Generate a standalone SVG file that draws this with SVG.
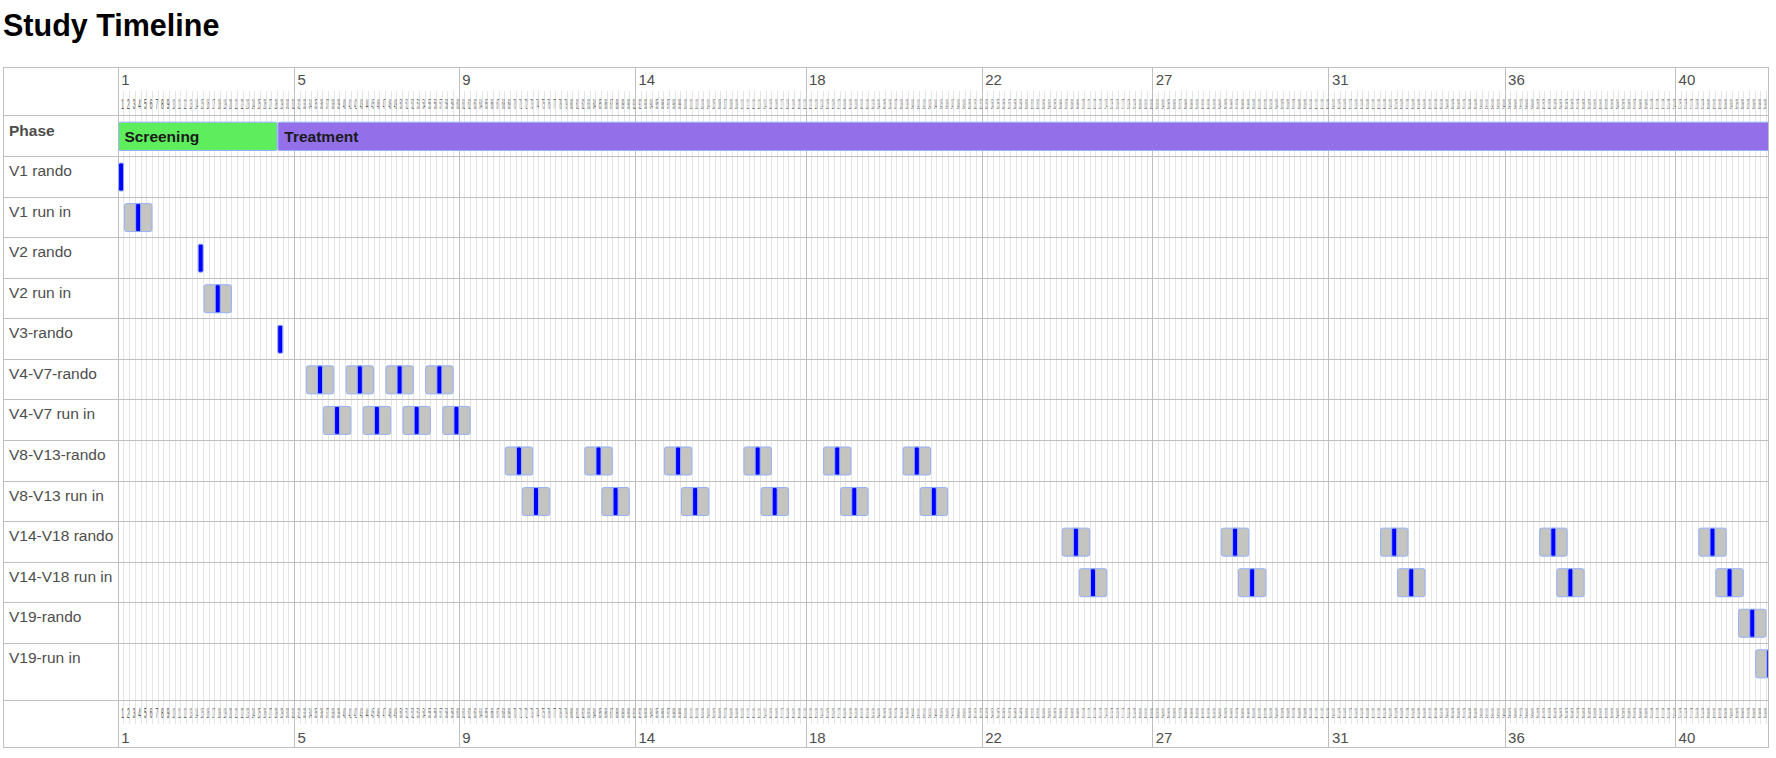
<svg xmlns="http://www.w3.org/2000/svg" width="1776" height="758" viewBox="0 0 1776 758">
<style>
text{font-family:"Liberation Sans",Arial,sans-serif}
.title{font-size:30.5px;font-weight:bold;fill:#000}
.lbl{font-size:15.5px;fill:#4d4d4d}
.hd{font-weight:bold}
.maj{font-size:15px;fill:#4d4d4d}
.ml text{font-size:15px;fill:#4d4d4d;transform-box:fill-box;transform-origin:0 0;transform:scaleX(.156)}
.ml .d1 text{transform:scaleX(.312)}
.ml .d3 text{transform:scaleX(.104)}
.ml text.d2{transform:scaleX(.156)}
.ml text.d3{transform:scaleX(.104)}
.mn{stroke:#e5e5e5;stroke-width:1;fill:none}
.mj{stroke:#bfbfbf;stroke-width:1;fill:none}
.gray{fill:#c4c4c0;stroke:#97b0f8;stroke-width:1}
.pt{fill:#0000ff;stroke:#97b0f8;stroke-width:1}
.ph{stroke:#97b0f8;stroke-width:1}
.pht{font-size:15.5px;font-weight:bold;fill:#1a1a1a}
</style>
<defs>
<path id="g10" d="M0 91V724M5.6835 91V724M11.367 91V724M17.0505 91V724M22.734 91V724M28.4175 91V724M34.101 91V724M39.7845 91V724M45.468 91V724M51.1515 91V724"/>
<clipPath id="cc"><rect x="118.3" y="67" width="1649.7" height="680.3"/></clipPath>
<g id="ri"><rect class="gray" x="-10.867" y="0" width="27.42" height="28" rx="2"/><rect class="pt" x="0.3" y="0" width="5" height="28" rx="1.5"/></g>
<g id="bp"><rect class="pt" x="0.3" y="0" width="5" height="28" rx="1.5"/></g>
</defs>
<rect x="0" y="0" width="1776" height="758" fill="#fff"/>
<text class="title" x="3" y="36">Study Timeline</text>

<g id="grid">
<g class="mn" shape-rendering="crispEdges">
<use href="#g10" x="118.3"/><use href="#g10" x="175.135"/><use href="#g10" x="231.97"/><use href="#g10" x="288.805"/><use href="#g10" x="345.64"/><use href="#g10" x="402.475"/><use href="#g10" x="459.31"/><use href="#g10" x="516.145"/><use href="#g10" x="572.98"/><use href="#g10" x="629.815"/><use href="#g10" x="686.65"/><use href="#g10" x="743.485"/><use href="#g10" x="800.32"/><use href="#g10" x="857.155"/><use href="#g10" x="913.99"/><use href="#g10" x="970.825"/><use href="#g10" x="1027.66"/><use href="#g10" x="1084.495"/><use href="#g10" x="1141.33"/><use href="#g10" x="1198.165"/><use href="#g10" x="1255"/><use href="#g10" x="1311.835"/><use href="#g10" x="1368.67"/><use href="#g10" x="1425.505"/><use href="#g10" x="1482.34"/><use href="#g10" x="1539.175"/><use href="#g10" x="1596.01"/><use href="#g10" x="1652.845"/><use href="#g10" x="1709.68"/>
<path d="M1766.515 91V724"/>
</g>
<path class="mj" shape-rendering="crispEdges" d="M118.3 67V747.3M294.49 67V747.3M459.31 67V747.3M635.5 67V747.3M806 67V747.3M982.19 67V747.3M1152.7 67V747.3M1328.89 67V747.3M1505.07 67V747.3M1675.58 67V747.3"/>
<path class="mj" shape-rendering="crispEdges" d="M3.5 115.7H1768M3.5 156.5H1768M3.5 197.07H1768M3.5 237.64H1768M3.5 278.21H1768M3.5 318.78H1768M3.5 359.35H1768M3.5 399.92H1768M3.5 440.49H1768M3.5 481.06H1768M3.5 521.63H1768M3.5 562.2H1768M3.5 602.77H1768M3.5 643.34H1768M3.5 700H1768"/>
<rect class="mj" shape-rendering="crispEdges" x="3.5" y="67" width="1764.5" height="680.3"/>
</g>

<g id="axis-major" class="maj">
<text x="121.3" y="85">1</text><text x="297.5" y="85">5</text><text x="462.3" y="85">9</text><text x="638.5" y="85">14</text><text x="809" y="85">18</text><text x="985.2" y="85">22</text><text x="1155.7" y="85">27</text><text x="1331.9" y="85">31</text><text x="1508.1" y="85">36</text><text x="1678.6" y="85">40</text>
<text x="121.3" y="742.5">1</text><text x="297.5" y="742.5">5</text><text x="462.3" y="742.5">9</text><text x="638.5" y="742.5">14</text><text x="809" y="742.5">18</text><text x="985.2" y="742.5">22</text><text x="1155.7" y="742.5">27</text><text x="1331.9" y="742.5">31</text><text x="1508.1" y="742.5">36</text><text x="1678.6" y="742.5">40</text>
</g>

<g id="axis-minor-top" class="ml">
<g class="d1" transform="translate(118.3 108.5)"><text x="3">1</text><text x="8.68">2</text><text x="14.37">3</text><text x="20.05">4</text><text x="25.73">5</text><text x="31.42">6</text><text x="37.1">7</text><text x="42.78">8</text><text x="48.47">9</text><text class="d2" x="54.15">10</text></g>
<g transform="translate(175.135 108.5)"><text x="3">11</text><text x="8.68">12</text><text x="14.37">13</text><text x="20.05">14</text><text x="25.73">15</text><text x="31.42">16</text><text x="37.1">17</text><text x="42.78">18</text><text x="48.47">19</text><text x="54.15">20</text></g>
<g transform="translate(231.97 108.5)"><text x="3">21</text><text x="8.68">22</text><text x="14.37">23</text><text x="20.05">24</text><text x="25.73">25</text><text x="31.42">26</text><text x="37.1">27</text><text x="42.78">28</text><text x="48.47">29</text><text x="54.15">30</text></g>
<g transform="translate(288.805 108.5)"><text x="3">31</text><text x="8.68">32</text><text x="14.37">33</text><text x="20.05">34</text><text x="25.73">35</text><text x="31.42">36</text><text x="37.1">37</text><text x="42.78">38</text><text x="48.47">39</text><text x="54.15">40</text></g>
<g transform="translate(345.64 108.5)"><text x="3">41</text><text x="8.68">42</text><text x="14.37">43</text><text x="20.05">44</text><text x="25.73">45</text><text x="31.42">46</text><text x="37.1">47</text><text x="42.78">48</text><text x="48.47">49</text><text x="54.15">50</text></g>
<g transform="translate(402.475 108.5)"><text x="3">51</text><text x="8.68">52</text><text x="14.37">53</text><text x="20.05">54</text><text x="25.73">55</text><text x="31.42">56</text><text x="37.1">57</text><text x="42.78">58</text><text x="48.47">59</text><text x="54.15">60</text></g>
<g transform="translate(459.31 108.5)"><text x="3">61</text><text x="8.68">62</text><text x="14.37">63</text><text x="20.05">64</text><text x="25.73">65</text><text x="31.42">66</text><text x="37.1">67</text><text x="42.78">68</text><text x="48.47">69</text><text x="54.15">70</text></g>
<g transform="translate(516.145 108.5)"><text x="3">71</text><text x="8.68">72</text><text x="14.37">73</text><text x="20.05">74</text><text x="25.73">75</text><text x="31.42">76</text><text x="37.1">77</text><text x="42.78">78</text><text x="48.47">79</text><text x="54.15">80</text></g>
<g transform="translate(572.98 108.5)"><text x="3">81</text><text x="8.68">82</text><text x="14.37">83</text><text x="20.05">84</text><text x="25.73">85</text><text x="31.42">86</text><text x="37.1">87</text><text x="42.78">88</text><text x="48.47">89</text><text x="54.15">90</text></g>
<g transform="translate(629.815 108.5)"><text x="3">91</text><text x="8.68">92</text><text x="14.37">93</text><text x="20.05">94</text><text x="25.73">95</text><text x="31.42">96</text><text x="37.1">97</text><text x="42.78">98</text><text x="48.47">99</text><text class="d3" x="54.15">100</text></g>
<g class="d3" transform="translate(686.65 108.5)"><text x="3">101</text><text x="8.68">102</text><text x="14.37">103</text><text x="20.05">104</text><text x="25.73">105</text><text x="31.42">106</text><text x="37.1">107</text><text x="42.78">108</text><text x="48.47">109</text><text x="54.15">110</text></g>
<g class="d3" transform="translate(743.485 108.5)"><text x="3">111</text><text x="8.68">112</text><text x="14.37">113</text><text x="20.05">114</text><text x="25.73">115</text><text x="31.42">116</text><text x="37.1">117</text><text x="42.78">118</text><text x="48.47">119</text><text x="54.15">120</text></g>
<g class="d3" transform="translate(800.32 108.5)"><text x="3">121</text><text x="8.68">122</text><text x="14.37">123</text><text x="20.05">124</text><text x="25.73">125</text><text x="31.42">126</text><text x="37.1">127</text><text x="42.78">128</text><text x="48.47">129</text><text x="54.15">130</text></g>
<g class="d3" transform="translate(857.155 108.5)"><text x="3">131</text><text x="8.68">132</text><text x="14.37">133</text><text x="20.05">134</text><text x="25.73">135</text><text x="31.42">136</text><text x="37.1">137</text><text x="42.78">138</text><text x="48.47">139</text><text x="54.15">140</text></g>
<g class="d3" transform="translate(913.99 108.5)"><text x="3">141</text><text x="8.68">142</text><text x="14.37">143</text><text x="20.05">144</text><text x="25.73">145</text><text x="31.42">146</text><text x="37.1">147</text><text x="42.78">148</text><text x="48.47">149</text><text x="54.15">150</text></g>
<g class="d3" transform="translate(970.825 108.5)"><text x="3">151</text><text x="8.68">152</text><text x="14.37">153</text><text x="20.05">154</text><text x="25.73">155</text><text x="31.42">156</text><text x="37.1">157</text><text x="42.78">158</text><text x="48.47">159</text><text x="54.15">160</text></g>
<g class="d3" transform="translate(1027.66 108.5)"><text x="3">161</text><text x="8.68">162</text><text x="14.37">163</text><text x="20.05">164</text><text x="25.73">165</text><text x="31.42">166</text><text x="37.1">167</text><text x="42.78">168</text><text x="48.47">169</text><text x="54.15">170</text></g>
<g class="d3" transform="translate(1084.495 108.5)"><text x="3">171</text><text x="8.68">172</text><text x="14.37">173</text><text x="20.05">174</text><text x="25.73">175</text><text x="31.42">176</text><text x="37.1">177</text><text x="42.78">178</text><text x="48.47">179</text><text x="54.15">180</text></g>
<g class="d3" transform="translate(1141.33 108.5)"><text x="3">181</text><text x="8.68">182</text><text x="14.37">183</text><text x="20.05">184</text><text x="25.73">185</text><text x="31.42">186</text><text x="37.1">187</text><text x="42.78">188</text><text x="48.47">189</text><text x="54.15">190</text></g>
<g class="d3" transform="translate(1198.165 108.5)"><text x="3">191</text><text x="8.68">192</text><text x="14.37">193</text><text x="20.05">194</text><text x="25.73">195</text><text x="31.42">196</text><text x="37.1">197</text><text x="42.78">198</text><text x="48.47">199</text><text x="54.15">200</text></g>
<g class="d3" transform="translate(1255 108.5)"><text x="3">201</text><text x="8.68">202</text><text x="14.37">203</text><text x="20.05">204</text><text x="25.73">205</text><text x="31.42">206</text><text x="37.1">207</text><text x="42.78">208</text><text x="48.47">209</text><text x="54.15">210</text></g>
<g class="d3" transform="translate(1311.835 108.5)"><text x="3">211</text><text x="8.68">212</text><text x="14.37">213</text><text x="20.05">214</text><text x="25.73">215</text><text x="31.42">216</text><text x="37.1">217</text><text x="42.78">218</text><text x="48.47">219</text><text x="54.15">220</text></g>
<g class="d3" transform="translate(1368.67 108.5)"><text x="3">221</text><text x="8.68">222</text><text x="14.37">223</text><text x="20.05">224</text><text x="25.73">225</text><text x="31.42">226</text><text x="37.1">227</text><text x="42.78">228</text><text x="48.47">229</text><text x="54.15">230</text></g>
<g class="d3" transform="translate(1425.505 108.5)"><text x="3">231</text><text x="8.68">232</text><text x="14.37">233</text><text x="20.05">234</text><text x="25.73">235</text><text x="31.42">236</text><text x="37.1">237</text><text x="42.78">238</text><text x="48.47">239</text><text x="54.15">240</text></g>
<g class="d3" transform="translate(1482.34 108.5)"><text x="3">241</text><text x="8.68">242</text><text x="14.37">243</text><text x="20.05">244</text><text x="25.73">245</text><text x="31.42">246</text><text x="37.1">247</text><text x="42.78">248</text><text x="48.47">249</text><text x="54.15">250</text></g>
<g class="d3" transform="translate(1539.175 108.5)"><text x="3">251</text><text x="8.68">252</text><text x="14.37">253</text><text x="20.05">254</text><text x="25.73">255</text><text x="31.42">256</text><text x="37.1">257</text><text x="42.78">258</text><text x="48.47">259</text><text x="54.15">260</text></g>
<g class="d3" transform="translate(1596.01 108.5)"><text x="3">261</text><text x="8.68">262</text><text x="14.37">263</text><text x="20.05">264</text><text x="25.73">265</text><text x="31.42">266</text><text x="37.1">267</text><text x="42.78">268</text><text x="48.47">269</text><text x="54.15">270</text></g>
<g class="d3" transform="translate(1652.845 108.5)"><text x="3">271</text><text x="8.68">272</text><text x="14.37">273</text><text x="20.05">274</text><text x="25.73">275</text><text x="31.42">276</text><text x="37.1">277</text><text x="42.78">278</text><text x="48.47">279</text><text x="54.15">280</text></g>
<g class="d3" transform="translate(1709.68 108.5)"><text x="3">281</text><text x="8.68">282</text><text x="14.37">283</text><text x="20.05">284</text><text x="25.73">285</text><text x="31.42">286</text><text x="37.1">287</text><text x="42.78">288</text><text x="48.47">289</text><text x="54.15">290</text></g>
</g>

<g id="axis-minor-bottom" class="ml">
<g class="d1" transform="translate(118.3 717.5)"><text x="3">1</text><text x="8.68">2</text><text x="14.37">3</text><text x="20.05">4</text><text x="25.73">5</text><text x="31.42">6</text><text x="37.1">7</text><text x="42.78">8</text><text x="48.47">9</text><text class="d2" x="54.15">10</text></g>
<g transform="translate(175.135 717.5)"><text x="3">11</text><text x="8.68">12</text><text x="14.37">13</text><text x="20.05">14</text><text x="25.73">15</text><text x="31.42">16</text><text x="37.1">17</text><text x="42.78">18</text><text x="48.47">19</text><text x="54.15">20</text></g>
<g transform="translate(231.97 717.5)"><text x="3">21</text><text x="8.68">22</text><text x="14.37">23</text><text x="20.05">24</text><text x="25.73">25</text><text x="31.42">26</text><text x="37.1">27</text><text x="42.78">28</text><text x="48.47">29</text><text x="54.15">30</text></g>
<g transform="translate(288.805 717.5)"><text x="3">31</text><text x="8.68">32</text><text x="14.37">33</text><text x="20.05">34</text><text x="25.73">35</text><text x="31.42">36</text><text x="37.1">37</text><text x="42.78">38</text><text x="48.47">39</text><text x="54.15">40</text></g>
<g transform="translate(345.64 717.5)"><text x="3">41</text><text x="8.68">42</text><text x="14.37">43</text><text x="20.05">44</text><text x="25.73">45</text><text x="31.42">46</text><text x="37.1">47</text><text x="42.78">48</text><text x="48.47">49</text><text x="54.15">50</text></g>
<g transform="translate(402.475 717.5)"><text x="3">51</text><text x="8.68">52</text><text x="14.37">53</text><text x="20.05">54</text><text x="25.73">55</text><text x="31.42">56</text><text x="37.1">57</text><text x="42.78">58</text><text x="48.47">59</text><text x="54.15">60</text></g>
<g transform="translate(459.31 717.5)"><text x="3">61</text><text x="8.68">62</text><text x="14.37">63</text><text x="20.05">64</text><text x="25.73">65</text><text x="31.42">66</text><text x="37.1">67</text><text x="42.78">68</text><text x="48.47">69</text><text x="54.15">70</text></g>
<g transform="translate(516.145 717.5)"><text x="3">71</text><text x="8.68">72</text><text x="14.37">73</text><text x="20.05">74</text><text x="25.73">75</text><text x="31.42">76</text><text x="37.1">77</text><text x="42.78">78</text><text x="48.47">79</text><text x="54.15">80</text></g>
<g transform="translate(572.98 717.5)"><text x="3">81</text><text x="8.68">82</text><text x="14.37">83</text><text x="20.05">84</text><text x="25.73">85</text><text x="31.42">86</text><text x="37.1">87</text><text x="42.78">88</text><text x="48.47">89</text><text x="54.15">90</text></g>
<g transform="translate(629.815 717.5)"><text x="3">91</text><text x="8.68">92</text><text x="14.37">93</text><text x="20.05">94</text><text x="25.73">95</text><text x="31.42">96</text><text x="37.1">97</text><text x="42.78">98</text><text x="48.47">99</text><text class="d3" x="54.15">100</text></g>
<g class="d3" transform="translate(686.65 717.5)"><text x="3">101</text><text x="8.68">102</text><text x="14.37">103</text><text x="20.05">104</text><text x="25.73">105</text><text x="31.42">106</text><text x="37.1">107</text><text x="42.78">108</text><text x="48.47">109</text><text x="54.15">110</text></g>
<g class="d3" transform="translate(743.485 717.5)"><text x="3">111</text><text x="8.68">112</text><text x="14.37">113</text><text x="20.05">114</text><text x="25.73">115</text><text x="31.42">116</text><text x="37.1">117</text><text x="42.78">118</text><text x="48.47">119</text><text x="54.15">120</text></g>
<g class="d3" transform="translate(800.32 717.5)"><text x="3">121</text><text x="8.68">122</text><text x="14.37">123</text><text x="20.05">124</text><text x="25.73">125</text><text x="31.42">126</text><text x="37.1">127</text><text x="42.78">128</text><text x="48.47">129</text><text x="54.15">130</text></g>
<g class="d3" transform="translate(857.155 717.5)"><text x="3">131</text><text x="8.68">132</text><text x="14.37">133</text><text x="20.05">134</text><text x="25.73">135</text><text x="31.42">136</text><text x="37.1">137</text><text x="42.78">138</text><text x="48.47">139</text><text x="54.15">140</text></g>
<g class="d3" transform="translate(913.99 717.5)"><text x="3">141</text><text x="8.68">142</text><text x="14.37">143</text><text x="20.05">144</text><text x="25.73">145</text><text x="31.42">146</text><text x="37.1">147</text><text x="42.78">148</text><text x="48.47">149</text><text x="54.15">150</text></g>
<g class="d3" transform="translate(970.825 717.5)"><text x="3">151</text><text x="8.68">152</text><text x="14.37">153</text><text x="20.05">154</text><text x="25.73">155</text><text x="31.42">156</text><text x="37.1">157</text><text x="42.78">158</text><text x="48.47">159</text><text x="54.15">160</text></g>
<g class="d3" transform="translate(1027.66 717.5)"><text x="3">161</text><text x="8.68">162</text><text x="14.37">163</text><text x="20.05">164</text><text x="25.73">165</text><text x="31.42">166</text><text x="37.1">167</text><text x="42.78">168</text><text x="48.47">169</text><text x="54.15">170</text></g>
<g class="d3" transform="translate(1084.495 717.5)"><text x="3">171</text><text x="8.68">172</text><text x="14.37">173</text><text x="20.05">174</text><text x="25.73">175</text><text x="31.42">176</text><text x="37.1">177</text><text x="42.78">178</text><text x="48.47">179</text><text x="54.15">180</text></g>
<g class="d3" transform="translate(1141.33 717.5)"><text x="3">181</text><text x="8.68">182</text><text x="14.37">183</text><text x="20.05">184</text><text x="25.73">185</text><text x="31.42">186</text><text x="37.1">187</text><text x="42.78">188</text><text x="48.47">189</text><text x="54.15">190</text></g>
<g class="d3" transform="translate(1198.165 717.5)"><text x="3">191</text><text x="8.68">192</text><text x="14.37">193</text><text x="20.05">194</text><text x="25.73">195</text><text x="31.42">196</text><text x="37.1">197</text><text x="42.78">198</text><text x="48.47">199</text><text x="54.15">200</text></g>
<g class="d3" transform="translate(1255 717.5)"><text x="3">201</text><text x="8.68">202</text><text x="14.37">203</text><text x="20.05">204</text><text x="25.73">205</text><text x="31.42">206</text><text x="37.1">207</text><text x="42.78">208</text><text x="48.47">209</text><text x="54.15">210</text></g>
<g class="d3" transform="translate(1311.835 717.5)"><text x="3">211</text><text x="8.68">212</text><text x="14.37">213</text><text x="20.05">214</text><text x="25.73">215</text><text x="31.42">216</text><text x="37.1">217</text><text x="42.78">218</text><text x="48.47">219</text><text x="54.15">220</text></g>
<g class="d3" transform="translate(1368.67 717.5)"><text x="3">221</text><text x="8.68">222</text><text x="14.37">223</text><text x="20.05">224</text><text x="25.73">225</text><text x="31.42">226</text><text x="37.1">227</text><text x="42.78">228</text><text x="48.47">229</text><text x="54.15">230</text></g>
<g class="d3" transform="translate(1425.505 717.5)"><text x="3">231</text><text x="8.68">232</text><text x="14.37">233</text><text x="20.05">234</text><text x="25.73">235</text><text x="31.42">236</text><text x="37.1">237</text><text x="42.78">238</text><text x="48.47">239</text><text x="54.15">240</text></g>
<g class="d3" transform="translate(1482.34 717.5)"><text x="3">241</text><text x="8.68">242</text><text x="14.37">243</text><text x="20.05">244</text><text x="25.73">245</text><text x="31.42">246</text><text x="37.1">247</text><text x="42.78">248</text><text x="48.47">249</text><text x="54.15">250</text></g>
<g class="d3" transform="translate(1539.175 717.5)"><text x="3">251</text><text x="8.68">252</text><text x="14.37">253</text><text x="20.05">254</text><text x="25.73">255</text><text x="31.42">256</text><text x="37.1">257</text><text x="42.78">258</text><text x="48.47">259</text><text x="54.15">260</text></g>
<g class="d3" transform="translate(1596.01 717.5)"><text x="3">261</text><text x="8.68">262</text><text x="14.37">263</text><text x="20.05">264</text><text x="25.73">265</text><text x="31.42">266</text><text x="37.1">267</text><text x="42.78">268</text><text x="48.47">269</text><text x="54.15">270</text></g>
<g class="d3" transform="translate(1652.845 717.5)"><text x="3">271</text><text x="8.68">272</text><text x="14.37">273</text><text x="20.05">274</text><text x="25.73">275</text><text x="31.42">276</text><text x="37.1">277</text><text x="42.78">278</text><text x="48.47">279</text><text x="54.15">280</text></g>
<g class="d3" transform="translate(1709.68 717.5)"><text x="3">281</text><text x="8.68">282</text><text x="14.37">283</text><text x="20.05">284</text><text x="25.73">285</text><text x="31.42">286</text><text x="37.1">287</text><text x="42.78">288</text><text x="48.47">289</text><text x="54.15">290</text></g>
</g>

<g id="row-phase">
<text class="lbl hd" x="9" y="135.5">Phase</text>
<g clip-path="url(#cc)">
<rect class="ph" x="118.8" y="122.2" width="158.2" height="28.3" rx="1.5" fill="#5ded5d"/>
<rect class="ph" x="277.94" y="122.2" width="1600" height="28.3" rx="1.5" fill="#9370ea"/>
<text class="pht" x="124.4" y="141.6">Screening</text>
<text class="pht" x="284.3" y="141.6">Treatment</text>
</g>
</g>

<g id="row-v1-rando"><text class="lbl" x="9" y="176">V1 rando</text><use href="#bp" x="118.3" y="163"/></g>
<g id="row-v1-runin"><text class="lbl" x="9" y="216.57">V1 run in</text><use href="#ri" x="135.35" y="203.57"/></g>
<g id="row-v2-rando"><text class="lbl" x="9" y="257.14">V2 rando</text><use href="#bp" x="197.87" y="244.14"/></g>
<g id="row-v2-runin"><text class="lbl" x="9" y="297.71">V2 run in</text><use href="#ri" x="214.92" y="284.71"/></g>
<g id="row-v3-rando"><text class="lbl" x="9" y="338.28">V3-rando</text><use href="#bp" x="277.44" y="325.28"/></g>
<g id="row-v4v7-rando"><text class="lbl" x="9" y="378.85">V4-V7-rando</text><use href="#ri" x="317.22" y="365.85"/><use href="#ri" x="357.01" y="365.85"/><use href="#ri" x="396.79" y="365.85"/><use href="#ri" x="436.58" y="365.85"/></g>
<g id="row-v4v7-runin"><text class="lbl" x="9" y="419.42">V4-V7 run in</text><use href="#ri" x="334.27" y="406.42"/><use href="#ri" x="374.06" y="406.42"/><use href="#ri" x="413.84" y="406.42"/><use href="#ri" x="453.63" y="406.42"/></g>
<g id="row-v8v13-rando"><text class="lbl" x="9" y="459.99">V8-V13-rando</text><use href="#ri" x="516.15" y="446.99"/><use href="#ri" x="595.71" y="446.99"/><use href="#ri" x="675.28" y="446.99"/><use href="#ri" x="754.85" y="446.99"/><use href="#ri" x="834.42" y="446.99"/><use href="#ri" x="913.99" y="446.99"/></g>
<g id="row-v8v13-runin"><text class="lbl" x="9" y="500.56">V8-V13 run in</text><use href="#ri" x="533.2" y="487.56"/><use href="#ri" x="612.76" y="487.56"/><use href="#ri" x="692.33" y="487.56"/><use href="#ri" x="771.9" y="487.56"/><use href="#ri" x="851.47" y="487.56"/><use href="#ri" x="931.04" y="487.56"/></g>
<g id="row-v14v18-rando"><text class="lbl" x="9" y="541.13">V14-V18 rando</text><use href="#ri" x="1073.13" y="528.13"/><use href="#ri" x="1232.27" y="528.13"/><use href="#ri" x="1391.4" y="528.13"/><use href="#ri" x="1550.54" y="528.13"/><use href="#ri" x="1709.68" y="528.13"/></g>
<g id="row-v14v18-runin"><text class="lbl" x="9" y="581.7">V14-V18 run in</text><use href="#ri" x="1090.18" y="568.7"/><use href="#ri" x="1249.32" y="568.7"/><use href="#ri" x="1408.45" y="568.7"/><use href="#ri" x="1567.59" y="568.7"/><use href="#ri" x="1726.73" y="568.7"/></g>
<g id="row-v19-rando"><text class="lbl" x="9" y="622.27">V19-rando</text><g clip-path="url(#cc)"><use href="#ri" x="1749.46" y="609.27"/></g></g>
<g id="row-v19-runin"><text class="lbl" x="9" y="662.84">V19-run in</text><g clip-path="url(#cc)"><use href="#ri" x="1766.52" y="649.84"/></g></g>
</svg>
